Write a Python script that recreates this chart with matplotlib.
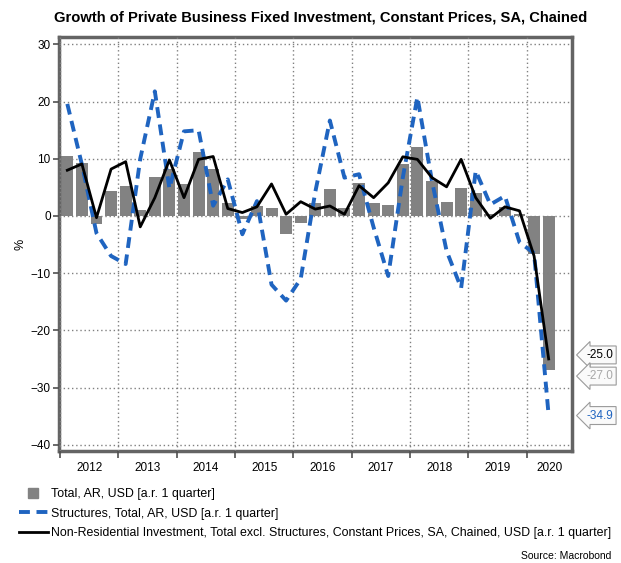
import numpy as np
import matplotlib.pyplot as plt
import matplotlib.transforms as mtransforms
from matplotlib.lines import Line2D

plt.rcParams['font.family'] = ['Liberation Sans', 'DejaVu Sans']

years = [2012, 2013, 2014, 2015, 2016, 2017, 2018, 2019, 2020]
quarters = ['%dQ%d' % (y, q) for y in years for q in range(1, 5)][:34]

total = [10.5, 9.3, -1.4, 4.4, 5.2, 1.0, 6.9, 8.2, 5.6, 11.2, 8.2, 2.3,
         -0.6, 1.8, 1.4, -3.2, -1.2, 2.3, 4.7, 1.4, 5.8, 2.2, 2.0, 9.1,
         12.1, 6.1, 2.5, 4.9, 4.0, 0.3, 1.6, 0.3, -6.7, -27.0]
structures = [19.6, 9.0, -3.0, -7.0, -8.4, 10.0, 21.8, 4.8, 14.8, 15.0, 1.8, 6.4,
              -3.2, 2.6, -12.0, -14.8, -11.0, 4.2, 16.7, 6.7, 7.3, -2.0, -10.5, 6.7,
              20.8, 6.1, -6.1, -12.6, 7.9, 2.0, 3.5, -4.6, -6.5, -34.9]
excl_struct = [8.0, 9.1, -0.3, 8.2, 9.5, -1.9, 3.2, 9.8, 3.2, 9.9, 10.4, 1.3,
               0.6, 1.6, 5.6, 0.3, 2.5, 1.2, 1.75, 0.3, 5.3, 3.2, 5.8, 10.35,
               9.9, 6.7, 5.1, 9.9, 3.2, -0.4, 1.6, 0.9, -7.0, -25.0]

labels = ['Total, AR, USD [a.r. 1 quarter]',
          'Structures, Total, AR, USD [a.r. 1 quarter]',
          'Non-Residential Investment, Total excl. Structures, Constant Prices, SA, Chained, USD [a.r. 1 quarter]']

grey = '#828282'
blue = '#1f64c0'

fig = plt.figure(figsize=(6.21, 5.63), dpi=100)
ax = fig.add_axes([59 / 621, 1 - 451 / 563, 513 / 621, 414 / 563])

x = np.arange(len(quarters))
ax.bar(x, total, width=0.82, color=grey, zorder=1)
ax.plot(x, structures, color=blue, lw=2.8, dashes=(2.8, 1.7), zorder=3)
ax.plot(x, excl_struct, color='black', lw=2.0, zorder=4)

ax.set_xlim(-0.57, 34.6)
ax.set_ylim(-41.1, 31.3)
ax.set_yticks(range(-40, 31, 10))
ax.set_xticks(np.arange(0, 36, 4) - 0.5)
ax.set_xticklabels([])
ax.set_xticks([1.5 + 4 * i for i in range(8)] + [33.05], minor=True)
ax.set_xticklabels([str(y) for y in years], minor=True)
ax.tick_params(axis='x', which='minor', length=0, pad=8, labelsize=8.5)
ax.tick_params(axis='x', which='major', length=5, width=1.2, color='#505050')
ax.tick_params(axis='y', length=4, width=1.2, color='#505050', labelsize=8.5, pad=2)

ax.set_axisbelow(False)
ax.grid(True, which='major', color='#808080', lw=1.0, ls=(0, (1, 2)))
for s in ax.spines.values():
    s.set_color('#646464')
    s.set_linewidth(2.5)

ax.set_ylabel('%', fontsize=9)
ax.yaxis.set_label_coords(-0.064, 0.5)

# end-value tags
trans = mtransforms.blended_transform_factory(ax.transAxes, ax.transData)
for val, ypos, col in [(excl_struct[-1], -24.3, 'black'),
                       (total[-1], -28.0, '#a8a8a8'),
                       (structures[-1], -34.9, blue)]:
    ax.text(1.028, ypos, '%.1f' % val, transform=trans, color=col, fontsize=8.5,
            va='center', ha='left', clip_on=False,
            bbox=dict(boxstyle='larrow,pad=0.25', fc='#fafafa', ec='#9a9a9a', lw=0.8))

fig.text(0.516, 0.969, 'Growth of Private Business Fixed Investment, Constant Prices, SA, Chained',
         ha='center', va='center', fontsize=10.6, fontweight='bold')

handles = [Line2D([], [], color=grey, marker='s', markersize=7.5, ls='none'),
           Line2D([], [], color=blue, lw=2.8, dashes=(2.8, 1.7)),
           Line2D([], [], color='black', lw=2.0)]
fig.legend(handles, labels, loc='upper left', bbox_to_anchor=(0.03, 0.133),
           frameon=False, fontsize=8.9, handlelength=2.4, handletextpad=0.2,
           labelspacing=0.6, borderaxespad=0, borderpad=0)

fig.text(0.985, 0.003, 'Source: Macrobond', ha='right', va='bottom', fontsize=7.5)

fig.savefig('out.png', dpi=100)
